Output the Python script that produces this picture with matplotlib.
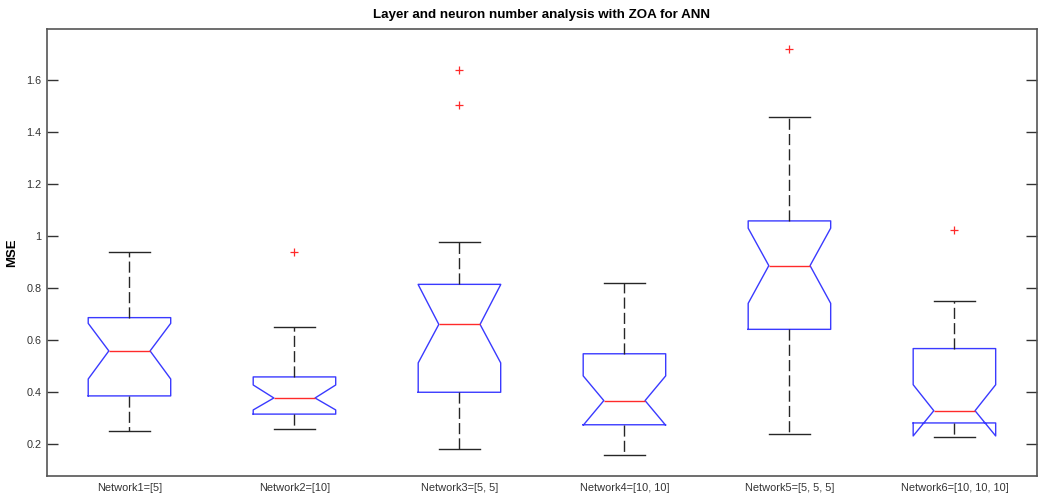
import numpy as np
import matplotlib.pyplot as plt
from matplotlib.ticker import FormatStrFormatter

plt.rcParams['font.family'] = ['Liberation Sans', 'DejaVu Sans']

names = ['Network1=[5]', 'Network2=[10]', 'Network3=[5, 5]',
         'Network4=[10, 10]', 'Network5=[5, 5, 5]', 'Network6=[10, 10, 10]']
q1 = [0.385, 0.315, 0.399, 0.274, 0.641, 0.281]
med = [0.558, 0.377, 0.660, 0.367, 0.886, 0.328]
q3 = [0.686, 0.458, 0.814, 0.547, 1.058, 0.567]
whislo = [0.249, 0.258, 0.181, 0.159, 0.238, 0.227]
whishi = [0.937, 0.650, 0.978, 0.818, 1.458, 0.750]
notch_lo = [0.450, 0.331, 0.512, 0.272, 0.741, 0.231]
notch_hi = [0.664, 0.427, 0.813, 0.462, 1.030, 0.428]
fliers = [[], [0.938], [1.505, 1.637], [], [1.718], [1.023]]

stats = []
for i in range(len(names)):
    stats.append(dict(label=names[i], q1=q1[i], med=med[i], q3=q3[i],
                      whislo=whislo[i], whishi=whishi[i],
                      cilo=notch_lo[i], cihi=notch_hi[i],
                      fliers=np.array(fliers[i])))

fig = plt.figure(figsize=(10.39, 4.95), dpi=100)
ax = fig.add_axes([0.0452, 0.0384, 0.9528, 0.903])

ax.bxp(stats, shownotches=True, widths=0.5,
       boxprops=dict(color='#3a3aff', lw=1.0),
       medianprops=dict(color='#ff2a2a', lw=1.0),
       whiskerprops=dict(color='#262626', lw=1.0, linestyle=(0, (8, 3))),
       capprops=dict(color='#262626', lw=1.0),
       flierprops=dict(marker='+', markeredgecolor='#ff2a2a', markersize=6,
                       markeredgewidth=0.9, linestyle='none'))

ax.set_xlim(0.5, 6.5)
ax.set_ylim(0.077, 1.796)
ax.set_yticks(np.arange(0.2, 1.61, 0.2))
ax.yaxis.set_major_formatter(FormatStrFormatter('%g'))
ax.tick_params(axis='y', direction='in', length=8, width=1.0, right=True,
               labelsize=7.8, labelcolor='#333333', color='#333333', pad=4)
ax.tick_params(axis='x', length=0, labelsize=7.9, labelcolor='#333333', pad=5)

for s in ax.spines.values():
    s.set_color('#555555')
    s.set_linewidth(1.2)

ax.set_ylabel('MSE', fontsize=9.5, fontweight='bold', labelpad=6)
ax.set_title('Layer and neuron number analysis with ZOA for ANN',
             fontsize=9.6, fontweight='bold', pad=8)

fig.savefig('out.png', dpi=100)
